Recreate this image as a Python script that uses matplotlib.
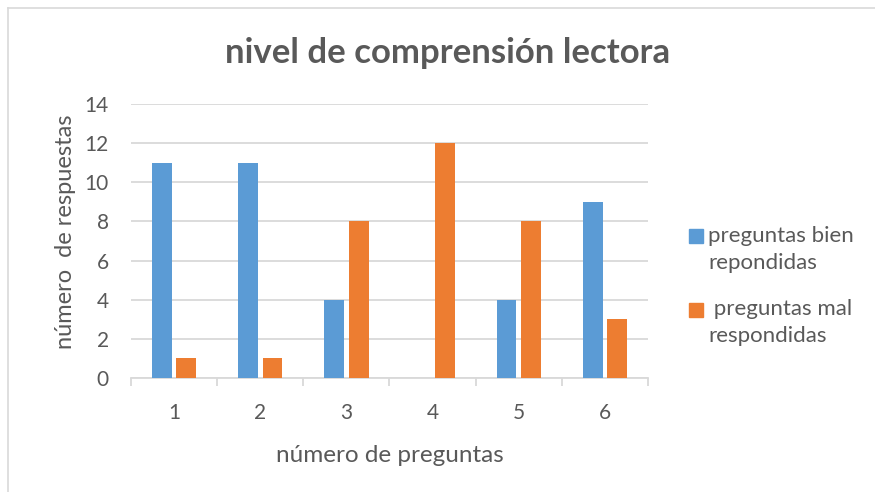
import matplotlib
matplotlib.use("Agg")
import matplotlib.pyplot as plt
from matplotlib.patches import Rectangle
from matplotlib.lines import Line2D
import numpy as np

categories = ["1", "2", "3", "4", "5", "6"]
bien = [11, 11, 4, 0, 4, 9]
mal = [1, 1, 8, 12, 8, 3]
series_labels = ["preguntas bien\nrepondidas", " preguntas mal\nrespondidas"]
colors = ["#5B9BD5", "#ED7D31"]
title = "nivel de comprensión lectora"
xlabel = "número de preguntas"
ylabel = "número  de respuestas"

plt.rcParams['font.family'] = ['Lato', 'DejaVu Sans']
text_color = "#595959"
grid_color = "#D9D9D9"

W, H = 875, 492
fig = plt.figure(figsize=(W/100, H/100), dpi=100)
ax = fig.add_axes([131/W, 1-378/H, 517/W, 274/H])

x = np.arange(len(categories))
w = 0.23
off = 0.142
ax.bar(x - off, bien, width=w, color=colors[0], zorder=3)
ax.bar(x + off, mal, width=w, color=colors[1], zorder=3)

ax.set_xlim(-0.5, len(categories) - 0.5)
ax.set_ylim(0, 14)
ax.set_yticks(range(0, 15, 2))
ax.yaxis.grid(True, color=grid_color, linewidth=1.3, zorder=0)
ax.set_axisbelow(True)

ax.set_xticks(x)
ax.set_xticklabels(categories)
ax.set_xticks(np.arange(-0.5, len(categories), 1), minor=True)
ax.tick_params(axis='x', which='major', length=0, pad=18, labelsize=15, labelcolor=text_color)
ax.tick_params(axis='x', which='minor', length=6, width=1.3, color=grid_color)
ax.tick_params(axis='y', length=0, pad=16, labelsize=15, labelcolor=text_color)

for s in ["top", "right", "left"]:
    ax.spines[s].set_visible(False)
ax.spines["bottom"].set_color(grid_color)
ax.spines["bottom"].set_linewidth(1.3)

ax.set_xlabel(xlabel, fontsize=17.5, color=text_color)
ax.xaxis.label.set_va('center')
ax.xaxis.set_label_coords((390-131)/517, (378-455)/274)
ax.set_ylabel(ylabel, fontsize=17, color=text_color)
ax.yaxis.label.set_va('center')
ax.yaxis.set_label_coords((65-131)/517, (378-232)/274)

fig.text(448/W, 1-53/H, title, ha='center', va='center', fontsize=25,
         fontweight='bold', color=text_color)

# legend
sq_top = [229, 303]
txt_top = [226, 299]
for lab, c, st, tt in zip(series_labels, colors, sq_top, txt_top):
    fig.patches.append(Rectangle((689/W, 1-(st+14)/H), 14/W, 14/H,
                                 transform=fig.transFigure, color=c))
    fig.text(708/W, 1-tt/H, lab, ha='left', va='top', fontsize=16,
             color=text_color, linespacing=1.42)

# chart border
fig.add_artist(Line2D([8/W, 1], [1-8/H, 1-8/H], transform=fig.transFigure,
                      color="#D9D9D9", linewidth=1.2))
fig.add_artist(Line2D([8/W, 8/W], [0, 1-8/H], transform=fig.transFigure,
                      color="#D9D9D9", linewidth=1.2))

fig.savefig("out.png", dpi=100)
